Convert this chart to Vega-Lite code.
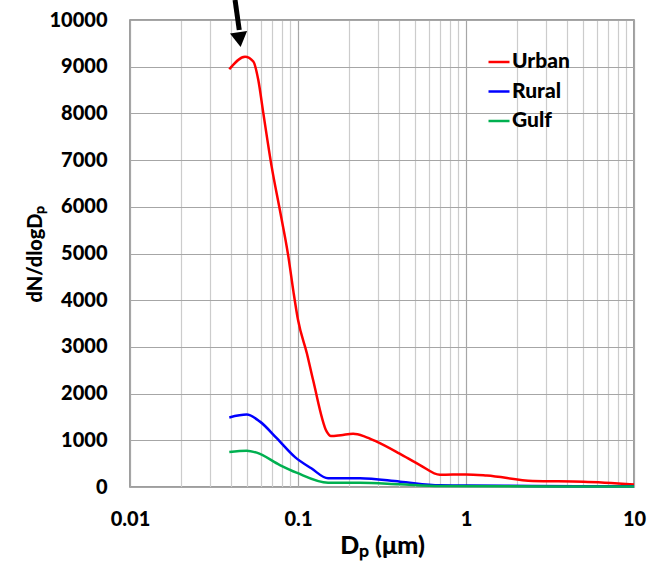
{
  "$schema": "https://vega.github.io/schema/vega-lite/v6.json",
  "width": 504,
  "height": 467,
  "autosize": {"type": "none"},
  "padding": {"left": 130, "top": 20, "right": 20, "bottom": 74},
  "background": "white",
  "config": {
    "view": {"stroke": "#7f7f7f", "strokeWidth": 1.5},
    "font": "Lato"
  },
  "datasets": {
    "curves": [
      {"site": "Urban", "dp": 0.039, "dn": 8945},
      {"site": "Urban", "dp": 0.0484, "dn": 9214},
      {"site": "Urban", "dp": 0.0542, "dn": 9110},
      {"site": "Urban", "dp": 0.058, "dn": 8720},
      {"site": "Urban", "dp": 0.0622, "dn": 8000},
      {"site": "Urban", "dp": 0.0697, "dn": 6860},
      {"site": "Urban", "dp": 0.078, "dn": 5930},
      {"site": "Urban", "dp": 0.0875, "dn": 4950},
      {"site": "Urban", "dp": 0.0938, "dn": 4200},
      {"site": "Urban", "dp": 0.1, "dn": 3580},
      {"site": "Urban", "dp": 0.113, "dn": 2860},
      {"site": "Urban", "dp": 0.123, "dn": 2290},
      {"site": "Urban", "dp": 0.148, "dn": 1190},
      {"site": "Urban", "dp": 0.157, "dn": 1092},
      {"site": "Urban", "dp": 0.18, "dn": 1110},
      {"site": "Urban", "dp": 0.213, "dn": 1140},
      {"site": "Urban", "dp": 0.25, "dn": 1080},
      {"site": "Urban", "dp": 0.294, "dn": 970},
      {"site": "Urban", "dp": 0.4, "dn": 720},
      {"site": "Urban", "dp": 0.532, "dn": 470},
      {"site": "Urban", "dp": 0.7, "dn": 260},
      {"site": "Urban", "dp": 1.0, "dn": 270},
      {"site": "Urban", "dp": 1.33, "dn": 245},
      {"site": "Urban", "dp": 2.5, "dn": 130},
      {"site": "Urban", "dp": 5.0, "dn": 115},
      {"site": "Urban", "dp": 10.0, "dn": 55},
      {"site": "Rural", "dp": 0.039, "dn": 1490},
      {"site": "Rural", "dp": 0.0495, "dn": 1550},
      {"site": "Rural", "dp": 0.0594, "dn": 1400},
      {"site": "Rural", "dp": 0.0747, "dn": 1045},
      {"site": "Rural", "dp": 0.096, "dn": 640},
      {"site": "Rural", "dp": 0.12, "dn": 400},
      {"site": "Rural", "dp": 0.151, "dn": 186},
      {"site": "Rural", "dp": 0.234, "dn": 186},
      {"site": "Rural", "dp": 0.405, "dn": 114},
      {"site": "Rural", "dp": 0.7, "dn": 36},
      {"site": "Rural", "dp": 1.0, "dn": 30},
      {"site": "Rural", "dp": 2.5, "dn": 22},
      {"site": "Rural", "dp": 10.0, "dn": 15},
      {"site": "Gulf", "dp": 0.039, "dn": 750},
      {"site": "Gulf", "dp": 0.0495, "dn": 778},
      {"site": "Gulf", "dp": 0.0568, "dn": 735},
      {"site": "Gulf", "dp": 0.078, "dn": 470},
      {"site": "Gulf", "dp": 0.098, "dn": 307},
      {"site": "Gulf", "dp": 0.151, "dn": 92},
      {"site": "Gulf", "dp": 0.234, "dn": 92},
      {"site": "Gulf", "dp": 0.4, "dn": 60},
      {"site": "Gulf", "dp": 0.7, "dn": 21},
      {"site": "Gulf", "dp": 10.0, "dn": 10}
    ],
    "arrow": [
      {"x": 0.0422, "y": 10428, "x2": 0.0447, "y2": 9786}
    ],
    "head": [
      {"x": 0.0449, "y": 9580}
    ]
  },
  "layer": [
    {
      "data": {"name": "curves"},
      "mark": {"type": "line", "interpolate": "monotone", "strokeWidth": 2.5},
      "encoding": {
        "x": {
          "field": "dp", "type": "quantitative",
          "scale": {"type": "log", "domain": [0.01, 10], "nice": false},
          "axis": {
            "title": "Dₚ (μm)",
            "titleFont": "Lato", "titleFontSize": 25, "titleFontWeight": 900, "titleColor": "black",
            "titlePadding": 4,
            "values": [0.01,0.02,0.03,0.04,0.05,0.06,0.07,0.08,0.09,0.1,0.2,0.3,0.4,0.5,0.6,0.7,0.8,0.9,1,2,3,4,5,6,7,8,9,10],
            "format": "~g",
            "labelExpr": "abs(log(datum.value)/LN10 - round(log(datum.value)/LN10)) < 0.001 ? datum.label : ''",
            "labelFont": "Lato", "labelFontSize": 20, "labelFontWeight": 900, "labelColor": "black",
            "labelFlush": false, "labelOverlap": false, "labelPadding": 22,
            "ticks": false, "tickSize": 0, "domain": false,
            "grid": true,
            "gridColor": {"condition": {"test": "abs(log(datum.value)/LN10 - round(log(datum.value)/LN10)) < 0.001", "value": "#a6a6a6"}, "value": "#cccccc"},
            "gridWidth": 1.2
          }
        },
        "y": {
          "field": "dn", "type": "quantitative",
          "scale": {"domain": [0, 10000], "nice": false},
          "axis": {
            "title": "dN/dlogDₚ",
            "titleFont": "Lato", "titleFontSize": 20, "titleFontWeight": 900, "titleColor": "black",
            "titlePadding": 4,
            "values": [0,1000,2000,3000,4000,5000,6000,7000,8000,9000,10000],
            "format": "d",
            "labelFont": "Lato", "labelFontSize": 20, "labelFontWeight": 900, "labelColor": "black",
            "labelPadding": 23,
            "ticks": false, "tickSize": 0, "domain": false,
            "grid": true, "gridColor": "#a6a6a6", "gridWidth": 1.2
          }
        },
        "color": {
          "field": "site", "type": "nominal",
          "scale": {"domain": ["Urban", "Rural", "Gulf"], "range": ["#ff0000", "#0000ff", "#00b050"]},
          "legend": {
            "title": null,
            "orient": "none", "legendX": 357, "legendY": 30,
            "symbolType": "stroke", "symbolSize": 441, "symbolStrokeWidth": 2.5,
            "labelFont": "Lato", "labelFontSize": 21, "labelFontWeight": 900, "labelColor": "black",
            "labelOffset": 1, "rowPadding": 7.5, "padding": 0
          }
        }
      }
    },
    {
      "data": {"name": "arrow"},
      "mark": {"type": "rule", "color": "black", "strokeWidth": 5, "clip": false},
      "encoding": {
        "x": {"field": "x", "type": "quantitative"},
        "y": {"field": "y", "type": "quantitative"},
        "x2": {"field": "x2"},
        "y2": {"field": "y2"}
      }
    },
    {
      "data": {"name": "head"},
      "mark": {"type": "point", "shape": "triangle-down", "filled": true, "color": "black", "size": 300, "angle": 352, "opacity": 1, "clip": false},
      "encoding": {
        "x": {"field": "x", "type": "quantitative"},
        "y": {"field": "y", "type": "quantitative"}
      }
    }
  ]
}
